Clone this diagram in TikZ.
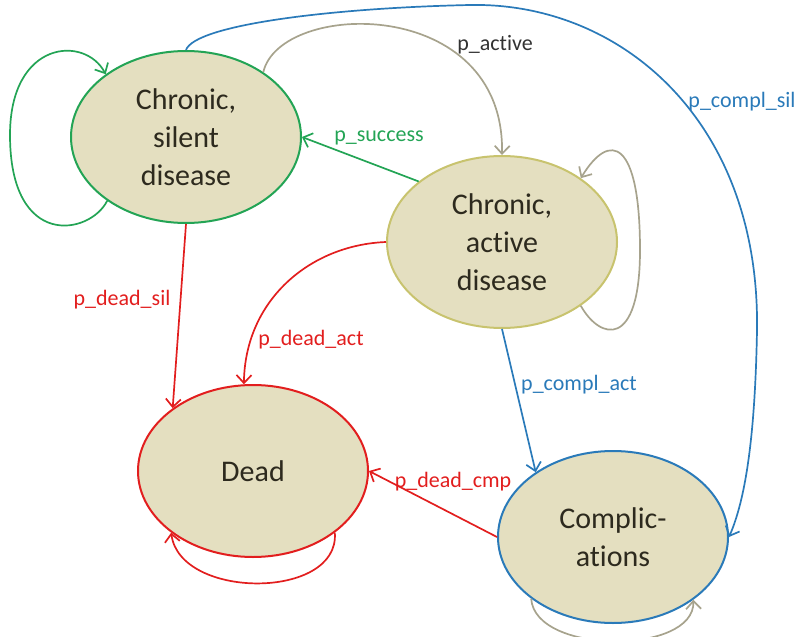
\documentclass[tikz,border=0pt]{standalone}
\usepackage{fontspec}
\setmainfont{Carlito}[Ligatures=NoCommon]
\usetikzlibrary{shapes.geometric,arrows.meta}
\definecolor{stfill}{RGB}{228,223,192}
\definecolor{sttext}{RGB}{45,42,30}
\definecolor{cgreen}{RGB}{35,164,85}
\definecolor{colive}{RGB}{200,195,110}
\definecolor{cgray}{RGB}{167,163,141}
\definecolor{cred}{RGB}{226,30,30}
\definecolor{cblue}{RGB}{42,122,185}
\definecolor{cdark}{RGB}{50,50,50}
\begin{document}
\begin{tikzpicture}[x=1pt,y=-1pt,
  state/.style={ellipse, fill=stfill, line width=2pt, minimum width=230pt,
    minimum height=172pt, inner sep=0pt, align=center,
    font=\fontsize{30}{38}\selectfont, text=sttext},
  lbl/.style={font=\fontsize{22}{26}\selectfont, inner sep=1pt},
  conn/.style={line width=1.7pt, -{Straight Barb[length=8pt,width=15pt,line width=1.7pt]}}]
\useasboundingbox (0,0) rectangle (799,636);

\node[state, draw=cgreen] (sil) at (186,137) {Chronic,\\silent\\disease};
\node[state, draw=colive] (act) at (502,242) {Chronic,\\active\\disease};
\node[state, draw=cred] (dead) at (253,471) {Dead};
\node[state, draw=cblue] (cmp) at (613,537) {Complic-\\ations};

% silent self loop
\draw[conn, cgreen] (sil.219) .. controls (90,235) and (10,250) .. (10,135)
  .. controls (10,40) and (85,35) .. (sil.142);
% p_active
\draw[conn, cgray] (sil.40) .. controls (280,0) and (505,-5) .. (act.north);
% p_success
\draw[conn, cgreen] (act.144) -- (sil.east);
% active self loop
\draw[conn, cgray] (act.-39) .. controls (600,340) and (640,350) .. (640,250)
  .. controls (640,140) and (610,130) .. (act.39);
% p_compl_sil
\draw[conn, cblue] (sil.north) .. controls (195,25) and (330,8) .. (470,5)
  .. controls (620,2) and (760,120) .. (757,330)
  .. controls (755,440) and (745,500) .. (cmp.east);
% p_dead_sil
\draw[conn, cred] (sil.south) -- (dead.142);
% p_dead_act
\draw[conn, cred] (act.west) .. controls (310,245) and (245,300) .. (dead.96);
% p_compl_act
\draw[conn, cblue] (act.south) -- (cmp.140);
% p_dead_cmp
\draw[conn, cred] (cmp.west) -- (dead.east);
% dead self loop
\draw[conn, cred] (dead.-37) .. controls (340,600) and (180,600) .. (dead.217);
% complications self loop
\draw[conn, cgray] (cmp.217) .. controls (535,655) and (695,655) .. (cmp.-38);

% labels
\node[lbl, text=cdark] (lact) at (495,45) {p\_active};
\node[lbl, text=cgreen] (lsuc) at (379,138) {p\_success};
\node[lbl, text=cblue] (lcs) at (742,102) {p\_compl\_sil};
\node[lbl, text=cblue] (lca) at (579,385) {p\_compl\_act};
\node[lbl, text=cred] (lds) at (122,300) {p\_dead\_sil};
\node[lbl, text=cred] (lda) at (311,340) {p\_dead\_act};
\node[lbl, text=cred] (ldc) at (453,482) {p\_dead\_cmp};
\end{tikzpicture}
\end{document}
